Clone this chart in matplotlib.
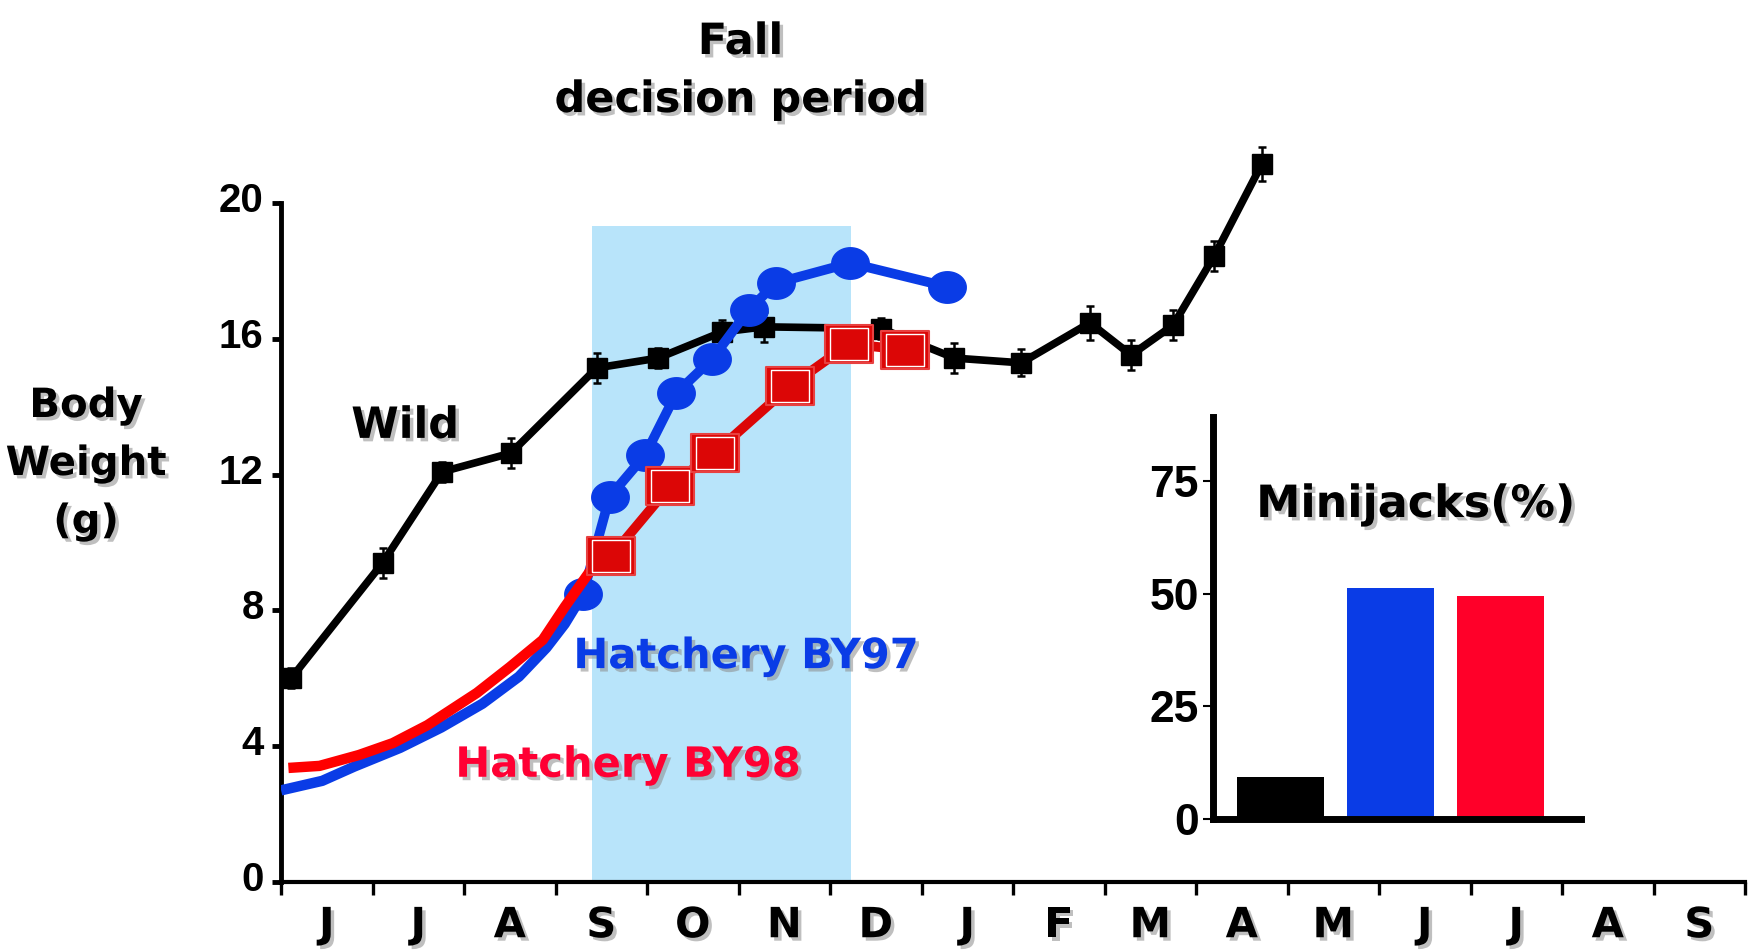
import numpy as np
import matplotlib
matplotlib.use('Agg')
from matplotlib import pyplot as plt
from matplotlib import patheffects as pe
from matplotlib import transforms
from matplotlib.path import Path

# months from June to the following September
months = ['J', 'J', 'A', 'S', 'O', 'N', 'D', 'J', 'F', 'M', 'A', 'M', 'J', 'J', 'A', 'S']

# wild fish, mean body weight (g) with error
wild_x = [0.11, 1.11, 1.76, 2.51, 3.45, 4.12, 4.82, 5.28, 6.56, 7.36, 8.09, 8.84, 9.29, 9.75, 10.2, 10.72]
wild_y = [6.0, 9.4, 12.08, 12.63, 15.14, 15.43, 16.2, 16.35, 16.3, 15.43, 15.29, 16.47, 15.52, 16.4, 18.44, 21.15]
wild_err = [0.3, 0.45, 0.3, 0.45, 0.45, 0.3, 0.35, 0.45, 0.3, 0.45, 0.4, 0.5, 0.45, 0.45, 0.45, 0.5]

# hatchery BY97: growth curve, then sampled points
by97_curve_x = [0.0, 0.45, 0.8, 1.3, 1.75, 2.2, 2.6, 2.9, 3.1, 3.3]
by97_curve_y = [2.7, 2.98, 3.4, 3.95, 4.55, 5.25, 6.05, 6.9, 7.6, 8.48]
by97_x = [3.30, 3.59, 3.98, 4.32, 4.71, 5.11, 5.41, 6.22, 7.28]
by97_y = [8.48, 11.34, 12.58, 14.4, 15.4, 16.85, 17.64, 18.23, 17.53]

# hatchery BY98
by98_curve_x = [0.08, 0.42, 0.85, 1.22, 1.6, 2.14, 2.5, 2.86, 3.1, 3.41]
by98_curve_y = [3.36, 3.42, 3.74, 4.09, 4.62, 5.57, 6.33, 7.13, 8.1, 9.28]
by98_x = [3.61, 4.25, 4.74, 5.56, 6.21, 6.82]
by98_y = [9.6, 11.66, 12.64, 14.6, 15.85, 15.67]

# fall decision period (months) and its top
fall_period = [3.40, 6.23]
fall_top = 19.32

# minijack rates (%)
groups = ['Wild', 'BY97', 'BY98']
minijacks = [9.3, 51.4, 49.5]

blue = '#0A3CE6'
red = '#FF0000'
dark_red = '#DC0606'
bar_red = '#FF0029'

comic = 'DejaVu Sans'
shadow = [pe.withSimplePatchShadow(offset=(2.5, -2.5), shadow_rgbFace='#8c8c8c', alpha=0.55)]

t = np.linspace(0, 2 * np.pi, 61)
ellipse = Path(np.column_stack([np.cos(t), 0.84 * np.sin(t)]))
rect_v = [(-1, -0.81), (1, -0.81), (1, 0.81), (-1, 0.81), (-1, -0.81)]
rect = Path(rect_v, [Path.MOVETO, Path.LINETO, Path.LINETO, Path.LINETO, Path.CLOSEPOLY])

fig = plt.figure(figsize=(17.48, 9.52), dpi=100)
ax = fig.add_axes([0.1608, 0.0735, 0.8375, 0.7847])
ax.set_xlim(0, 16)
ax.set_ylim(0, 22)

ax.fill_between(fall_period, 0, fall_top, color='#B8E4FA', lw=0, zorder=0)

ax.errorbar(wild_x, wild_y, yerr=wild_err, fmt='none', ecolor='k', elinewidth=1.8,
            capsize=3, capthick=1.8, zorder=3, clip_on=False)
ax.plot(wild_x, wild_y, '-s', color='k', lw=5.5, ms=14, zorder=3, clip_on=False)

ax.plot(by97_curve_x, by97_curve_y, '-', color=blue, lw=7.5, zorder=4, solid_capstyle='butt')
ax.plot(by97_x, by97_y, '-', color=blue, lw=7, marker=ellipse, ms=27, mec=blue, zorder=4)

ax.plot(by98_curve_x, by98_curve_y, '-', color=red, lw=7.5, zorder=5, solid_capstyle='butt')
ax.plot([by98_curve_x[-1]] + by98_x, [by98_curve_y[-1]] + by98_y, '-', color=dark_red, lw=7, zorder=5)
ax.plot(by98_x, by98_y, ls='none', marker=rect, ms=34, mfc=dark_red, mec='#E84040', mew=1.5, zorder=5)
ax.plot(by98_x, by98_y, ls='none', marker=rect, ms=28, mfc='none', mec='white', mew=1, zorder=5)

for s in ['top', 'right']:
    ax.spines[s].set_visible(False)
ax.spines['left'].set_bounds(0, 20)
ax.spines['left'].set_linewidth(3.5)
ax.spines['bottom'].set_linewidth(3)

ax.set_yticks(np.arange(0, 21, 4))
ax.tick_params(axis='y', length=6.5, width=3.5, pad=6, labelsize=29)
lift = transforms.ScaledTranslation(0, 6 / 100, fig.dpi_scale_trans)
for lbl in ax.get_yticklabels():
    lbl.set_family('Liberation Sans')
    lbl.set_weight('bold')
    lbl.set_transform(lbl.get_transform() + lift)

ax.set_xticks(np.arange(0, 17))
ax.set_xticklabels([])
ax.set_xticks(np.arange(16) + 0.5, minor=True)
ax.set_xticklabels(months, minor=True)
ax.tick_params(axis='x', which='major', length=9, width=2.4)
ax.tick_params(axis='x', which='minor', length=0, pad=16, labelsize=30)
for lbl in ax.get_xticklabels(minor=True):
    lbl.set_family(comic)
    lbl.set_weight('bold')
    lbl.set_path_effects(shadow)

ax.text(1.355, 13.08, 'Wild', fontsize=31, fontweight='bold', family=comic, ha='center',
        va='baseline', path_effects=shadow, zorder=6)
ax.text(5.08, 6.3, 'Hatchery BY97', color=blue, fontsize=30, fontweight='bold', family=comic,
        ha='center', va='baseline', path_effects=shadow, zorder=6)
ax.text(3.79, 3.1, 'Hatchery BY98', color='#FF0033', fontsize=30, fontweight='bold', family=comic,
        ha='center', va='baseline', path_effects=shadow, zorder=6)

fig.text(0.4236, 1 - 54 / 952, 'Fall', fontsize=31, fontweight='bold', family=comic, ha='center',
         va='baseline', path_effects=shadow)
fig.text(0.4236, 1 - 112 / 952, 'decision period', fontsize=31, fontweight='bold', family=comic,
         ha='center', va='baseline', path_effects=shadow)

for word, yb in zip(['Body', 'Weight', '(g)'], [417, 475, 533]):
    fig.text(0.0492, 1 - yb / 952, word, fontsize=29, fontweight='bold', family=comic,
             ha='center', va='baseline', path_effects=shadow)

# inset: minijack percentages
ax2 = fig.add_axes([0.6939, 0.1397, 0.2105, 0.4223])
ax2.patch.set_alpha(0)
ax2.bar(range(len(groups)), minijacks, width=0.79, color=['k', blue, bar_red], zorder=2)
ax2.set_xlim(-0.61, 2.73)
ax2.set_ylim(0, 89.3)
for s in ['top', 'right']:
    ax2.spines[s].set_visible(False)
for s in ['left', 'bottom']:
    ax2.spines[s].set_linewidth(5)
    ax2.spines[s].set_zorder(3)
ax2.set_xticks([])
ax2.set_yticks([0, 25, 50, 75])
ax2.tick_params(axis='y', length=7, width=1.5, pad=3, labelsize=32)
for lbl in ax2.get_yticklabels():
    lbl.set_family('Liberation Sans')
    lbl.set_weight('bold')

fig.text(1416 / 1748, 1 - 517 / 952, 'Minijacks(%)', fontsize=32, fontweight='bold', family=comic,
         ha='center', va='baseline', path_effects=shadow)

fig.savefig('out.png', dpi=100)
